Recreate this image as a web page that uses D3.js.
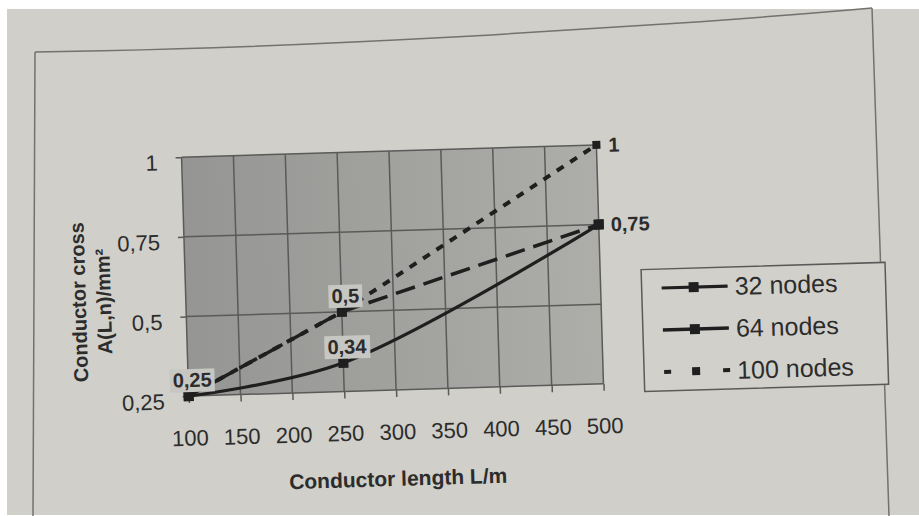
<!DOCTYPE html>
<html>
<head>
<meta charset="utf-8">
<script src="https://cdn.jsdelivr.net/npm/d3@7"></script>
<style>
  body { margin: 0; background: #fff; }
  svg text { font-family: "Liberation Sans", Arial, sans-serif; fill: #2c2c2c; }
</style>
</head>
<body>
<div id="chart"></div>
<script>
// values
const lengths = [100, 250, 500];
const nodes32 = [0.25, 0.34, 0.75];
const nodes64 = [0.25, 0.5, 0.75];
const nodes100 = [0.25, 0.5, 1];
const seriesNames = ["32 nodes", "64 nodes", "100 nodes"];
const xTicks = [100, 150, 200, 250, 300, 350, 400, 450, 500];
const yTicks = [0.25, 0.5, 0.75, 1];
const yTickLabels = ["0,25", "0,5", "0,75", "1"];
// value labels: [series, point, side]
const valueLabels = [[0, 1, "top"], [1, 0, "top"], [1, 1, "top"], [1, 2, "right"], [2, 2, "right"]];

const W = 919, H = 516;
const plot = { left: 185, top: 151, right: 600, bottom: 390 };
// the photo is a bit tilted
const tilt = -1.7, cx = 392, cy = 270;

const svg = d3.select("#chart").append("svg")
  .attr("width", W)
  .attr("height", H);

const defs = svg.append("defs");
const grad = defs.append("linearGradient").attr("id", "plotFill");
grad.append("stop").attr("offset", "0%").attr("stop-color", "#959593");
grad.append("stop").attr("offset", "100%").attr("stop-color", "#adadaa");

// paper
svg.append("rect").attr("width", W).attr("height", H).attr("fill", "#fff");
svg.append("rect")
  .attr("x", 7).attr("y", 9)
  .attr("width", W - 7).attr("height", H - 10)
  .attr("fill", "#d0cfc9");

// frame of the printed figure
const frameLine = d3.line().curve(d3.curveBasis);
const framePaths = [
  [[33, 516], [35, 52]],
  [[35, 52], [200, 49], [450, 38], [720, 21], [872, 8]],
  [[872, 8], [889, 516]]
];
svg.selectAll(".frame")
  .data(framePaths)
  .enter().append("path")
  .attr("class", "frame")
  .attr("d", frameLine)
  .attr("fill", "none")
  .attr("stroke", "#73726e")
  .attr("stroke-width", 1.5);

const g = svg.append("g")
  .attr("transform", "rotate(" + tilt + "," + cx + "," + cy + ")");

const x = d3.scaleLinear().domain([100, 500]).range([plot.left, plot.right]);
const y = d3.scaleLinear().domain([0.25, 1]).range([plot.bottom, plot.top]);

// plot area
g.append("rect")
  .attr("x", plot.left).attr("y", plot.top)
  .attr("width", plot.right - plot.left)
  .attr("height", plot.bottom - plot.top)
  .attr("fill", "url(#plotFill)");

// grid
g.selectAll(".vgrid")
  .data(xTicks)
  .enter().append("line")
  .attr("class", "vgrid")
  .attr("x1", d => x(d)).attr("x2", d => x(d))
  .attr("y1", plot.top).attr("y2", plot.bottom)
  .attr("stroke", "#5a5a58").attr("stroke-width", 1.5);

g.selectAll(".hgrid")
  .data(yTicks)
  .enter().append("line")
  .attr("class", "hgrid")
  .attr("x1", plot.left).attr("x2", plot.right)
  .attr("y1", d => y(d)).attr("y2", d => y(d))
  .attr("stroke", "#5a5a58").attr("stroke-width", 1.5);

// axes
const xAxis = d3.axisBottom(x)
  .tickValues(xTicks)
  .tickFormat(d3.format("d"))
  .tickSize(7)
  .tickPadding(27);

const yAxis = d3.axisLeft(y)
  .tickValues(yTicks)
  .tickFormat((d, i) => yTickLabels[i])
  .tickSize(6)
  .tickPadding(18);

const gx = g.append("g")
  .attr("transform", "translate(0," + plot.bottom + ")")
  .call(xAxis);
const gy = g.append("g")
  .attr("transform", "translate(" + plot.left + ",0)")
  .call(yAxis);

[gx, gy].forEach(ax => {
  ax.select(".domain").remove();
  ax.selectAll(".tick line").attr("stroke", "#5a5a58").attr("stroke-width", 1.5);
  ax.selectAll(".tick text")
    .attr("font-size", 22)
    .attr("fill", "#333");
});
gy.selectAll(".tick text").attr("dy", "0.55em");

// axis titles
g.append("text")
  .attr("x", 392).attr("y", 486)
  .attr("text-anchor", "middle")
  .attr("font-size", 21)
  .attr("font-weight", "bold")
  .text("Conductor length L/m");

const yTitle = g.append("text")
  .attr("transform", "translate(85,293) rotate(-90)")
  .attr("text-anchor", "middle")
  .attr("font-size", 20)
  .attr("font-weight", "bold");
yTitle.append("tspan").attr("x", 0).attr("y", 0).text("Conductor cross");
yTitle.append("tspan").attr("x", 0).attr("y", 25).text("A(L,n)/mm²");

// series
const series = [
  { name: seriesNames[0], values: nodes32, dash: null, width: 3.2, curve: d3.curveCatmullRom, marker: 10, legendDash: null },
  { name: seriesNames[1], values: nodes64, dash: "20 9", width: 3.5, curve: d3.curveLinear, marker: 10, legendDash: null },
  { name: seriesNames[2], values: nodes100, dash: "8 8", width: 4, curve: d3.curveLinear, marker: 8, legendDash: "7 52" }
];

const drawOrder = [2, 1, 0];
drawOrder.forEach(si => {
  const s = series[si];
  const line = d3.line()
    .x((d, i) => x(lengths[i]))
    .y(d => y(d))
    .curve(s.curve);
  g.append("path")
    .datum(s.values)
    .attr("d", line)
    .attr("fill", "none")
    .attr("stroke", "#1f1f1f")
    .attr("stroke-width", s.width)
    .attr("stroke-dasharray", s.dash);
});

drawOrder.forEach(si => {
  const s = series[si];
  g.selectAll(".mk" + si)
    .data(s.values)
    .enter().append("rect")
    .attr("class", "mk" + si)
    .attr("x", (d, i) => x(lengths[i]) - s.marker / 2)
    .attr("y", d => y(d) - s.marker / 2)
    .attr("width", s.marker)
    .attr("height", s.marker)
    .attr("fill", "#1f1f1f");
});

// value labels
const fmt = v => String(v).replace(".", ",");
valueLabels.forEach(([si, pi, side]) => {
  const v = series[si].values[pi];
  const px = x(lengths[pi]), py = y(v);
  const lg = g.append("g");
  const t = lg.append("text")
    .attr("font-size", 20)
    .attr("font-weight", "bold")
    .text(fmt(v));
  if (side === "top") {
    t.attr("x", px + 4).attr("y", py - 9).attr("text-anchor", "middle");
    const b = t.node().getBBox();
    lg.insert("rect", "text")
      .attr("x", b.x - 3).attr("y", b.y)
      .attr("width", b.width + 6).attr("height", b.height + 1)
      .attr("fill", "#c6c6c2");
  } else {
    t.attr("x", px + 12).attr("y", py).attr("dy", "0.36em").attr("text-anchor", "start");
  }
});

// legend
const legend = { left: 641, top: 277, width: 244, height: 122 };
g.append("rect")
  .attr("x", legend.left).attr("y", legend.top)
  .attr("width", legend.width).attr("height", legend.height)
  .attr("fill", "#d1d0cb")
  .attr("stroke", "#5a5a58")
  .attr("stroke-width", 1.5);

const rowY = d3.scalePoint().domain(seriesNames).range([legend.top + 19, legend.top + 103]);
const item = g.selectAll(".leg")
  .data(series)
  .enter().append("g")
  .attr("class", "leg")
  .attr("transform", d => "translate(" + legend.left + "," + rowY(d.name) + ")");

item.append("line")
  .attr("x1", 20).attr("x2", 86)
  .attr("stroke", "#1f1f1f")
  .attr("stroke-width", d => d.width)
  .attr("stroke-dasharray", d => d.legendDash);
item.append("rect")
  .attr("x", d => 52 - d.marker / 2)
  .attr("y", d => -d.marker / 2)
  .attr("width", d => d.marker)
  .attr("height", d => d.marker)
  .attr("fill", "#1f1f1f");
item.append("text")
  .attr("x", 93)
  .attr("dy", "0.36em")
  .attr("font-size", 25)
  .text(d => d.name);
</script>
</body>
</html>
